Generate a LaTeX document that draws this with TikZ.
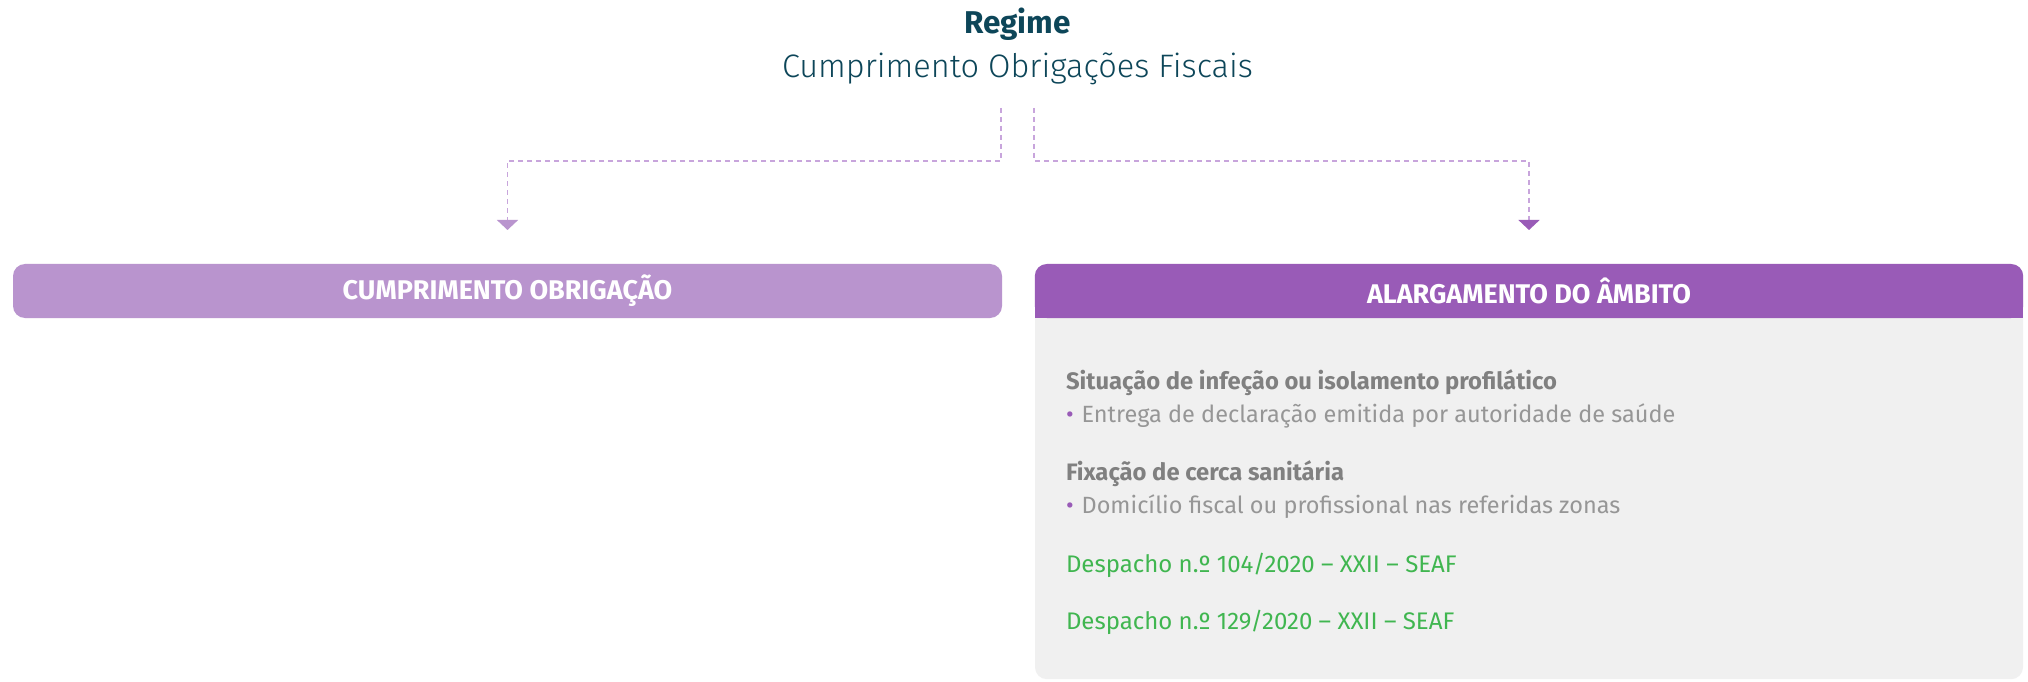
\documentclass[tikz,border=0pt]{standalone}
\usepackage{fontspec}
\setmainfont{Fira Sans}
\newfontfamily\lightfont{Fira Sans Light}
\usetikzlibrary{arrows.meta}

\definecolor{titleColor}{RGB}{13,70,89}
\definecolor{lightBox}{RGB}{185,148,206}
\definecolor{headBox}{RGB}{153,91,183}
\definecolor{bodyBox}{RGB}{240,240,240}
\definecolor{linkColor}{RGB}{200,165,220}
\definecolor{headGrey}{RGB}{128,128,128}
\definecolor{textGrey}{RGB}{150,150,150}
\definecolor{seafGreen}{RGB}{64,182,80}

\tikzset{
  boxlabel/.style={text=white,anchor=center,inner sep=0pt,outer sep=0pt,
    font=\bfseries\fontsize{27}{31}\selectfont},
  bodytext/.style={anchor=base west,inner sep=0pt,outer sep=0pt,
    font=\fontsize{23.5}{27}\selectfont},
  link/.style={draw=linkColor,line width=1.5pt,dash pattern=on 5pt off 4pt},
}

\begin{document}
\begin{tikzpicture}[x=1pt,y=1pt]
\path[use as bounding box,fill=white] (0,0) rectangle (2028,681);

% title
\node[text=titleColor,anchor=base,inner sep=0pt,outer sep=0pt,font=\bfseries\fontsize{31.5}{36}\selectfont] (regime) at (1017.5,647) {Regime};
\node[text=titleColor,anchor=base,inner sep=0pt,outer sep=0pt,font=\lightfont\fontsize{32.5}{37}\selectfont] (obrigacoes) at (1017.5,603) {Cumprimento Obrigações Fiscais};

% left box
\node[fill=lightBox,rounded corners=12pt,minimum width=989pt,minimum height=54pt,boxlabel] (cumprimento) at (507.5,390) {CUMPRIMENTO OBRIGAÇÃO};

% right box
\node[fill=bodyBox,rounded corners=12pt,minimum width=988pt,minimum height=415pt,anchor=north,inner sep=0pt] (ambitobody) at (1529,417) {};
\fill[headBox,rounded corners=12pt] (ambitobody.north west) rectangle (ambitobody.east |- 0,363);
\fill[headBox] (ambitobody.west |- 0,390) rectangle (ambitobody.east |- 0,363);
\node[boxlabel] (ambito) at (1529,390) {ALARGAMENTO DO ÂMBITO};

% connectors
\coordinate (forkL) at (1001,573);
\coordinate (forkR) at (1034,573);
\coordinate (bendL) at (cumprimento.north |- 0,520);
\coordinate (bendR) at (ambito.north |- 0,520);
\coordinate (tipL) at ([yshift=34pt]cumprimento.north);
\coordinate (tipR) at ([yshift=34pt]ambitobody.north);
\draw[link,-{Triangle[width=21pt,length=10pt,color=lightBox]}] (forkL) |- (bendL) -- (tipL);
\draw[link,-{Triangle[width=21pt,length=10pt,color=headBox]}] (forkR) |- (bendR) -- (tipR);

% contents
\node[bodytext,text=headGrey,font=\bfseries\fontsize{23.8}{27}\selectfont] (infecao) at (1066,292) {Situação de infeção ou isolamento profilático};
\node[bodytext,text=textGrey] (declaracao) at (1066,259) {\textcolor{headBox}{\textbullet}\hspace{8pt}Entrega de declaração emitida por autoridade de saúde};
\node[bodytext,text=headGrey,font=\bfseries\fontsize{23.8}{27}\selectfont] (cerca) at (1066,201) {Fixação de cerca sanitária};
\node[bodytext,text=textGrey] (domicilio) at (1066,168) {\textcolor{headBox}{\textbullet}\hspace{8pt}Domicílio fiscal ou profissional nas referidas zonas};
\node[bodytext,text=seafGreen,font=\fontsize{24}{28}\selectfont] (despachoA) at (1066,109) {Despacho n.º 104/2020 – XXII – SEAF};
\node[bodytext,text=seafGreen,font=\fontsize{24}{28}\selectfont] (despachoB) at (1066,52) {Despacho n.º 129/2020 – XXII – SEAF};
\end{tikzpicture}
\end{document}
